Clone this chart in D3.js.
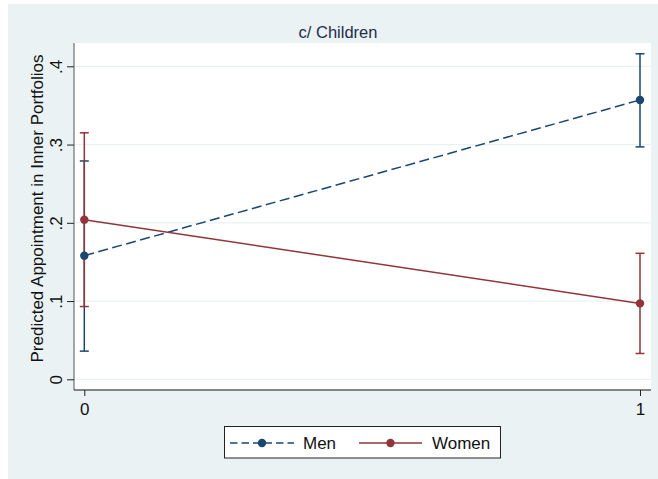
<!DOCTYPE html>
<html>
<head>
<meta charset="utf-8">
<script src="https://cdn.jsdelivr.net/npm/d3@7"></script>
<style>
  html, body { margin: 0; padding: 0; background: #ffffff; }
  svg { display: block; font-family: "Liberation Sans", Arial, sans-serif; }
</style>
</head>
<body>
<div id="chart"></div>
<script>
// Predicted appointment by parenthood group (with children)
const xCategories = [0, 1];
const xTickLabels = ["0", "1"];
const yTicks = [0, 0.1, 0.2, 0.3, 0.4];
const yTickLabels = ["0", ".1", ".2", ".3", ".4"];

const menValues = [0.158, 0.357];
const menLower = [0.036, 0.297];
const menUpper = [0.279, 0.416];

const womenValues = [0.204, 0.097];
const womenLower = [0.093, 0.033];
const womenUpper = [0.315, 0.161];

const seriesNames = ["Men", "Women"];
const seriesColors = ["#1a476f", "#90353b"];

const W = 658, H = 479;
const bg = "#eaf2f3";
const fontSize = 17;

const svg = d3.select("#chart").append("svg")
  .attr("width", W).attr("height", H);

// outer graph region
svg.append("rect").attr("x", 8).attr("y", 4).attr("width", W - 8).attr("height", H - 4)
  .attr("fill", bg);

const plot = { left: 74, right: 651, top: 43, bottom: 390 };

// plot region
svg.append("rect")
  .attr("x", plot.left).attr("y", plot.top)
  .attr("width", plot.right - plot.left).attr("height", plot.bottom - plot.top)
  .attr("fill", "#ffffff");

// subtitle
svg.append("text")
  .attr("x", 338).attr("y", 38)
  .attr("text-anchor", "middle")
  .attr("font-size", 16.5).attr("fill", "#1e2d4d")
  .text("c/ Children");

const x = d3.scaleLinear().domain([0, 1]).range([84.3, 640]);
const y = d3.scaleLinear().domain([0, 0.4]).range([379.3, 66.3]);

// gridlines
svg.append("g").selectAll("line").data(yTicks).join("line")
  .attr("x1", plot.left + 1).attr("x2", plot.right)
  .attr("y1", d => y(d)).attr("y2", d => y(d))
  .attr("stroke", bg).attr("stroke-width", 1.2);

// y axis
const yAxis = d3.axisLeft(y).tickValues(yTicks)
  .tickFormat((d, i) => yTickLabels[i]).tickSize(7).tickPadding(4);
const gy = svg.append("g").attr("transform", `translate(${plot.left},0)`).call(yAxis);
gy.select(".domain").attr("d", `M0,${plot.top}V${plot.bottom}`).attr("stroke", "#555");
gy.selectAll(".tick line").attr("stroke", "#222");
// rotated tick labels, placed in the axis' own frame
gy.selectAll(".tick").each(function(d) {
  const t = d3.select(this);
  t.select("text")
    .attr("font-size", fontSize).attr("fill", "#111")
    .attr("font-family", "Liberation Sans, Arial, sans-serif")
    .attr("text-anchor", "middle")
    .attr("dy", null)
    .attr("x", 0).attr("y", -12)
    .attr("transform", "rotate(-90)");
});

// x axis
const xAxis = d3.axisBottom(x).tickValues(xCategories)
  .tickFormat((d, i) => xTickLabels[i]).tickSize(6).tickPadding(7);
const gx = svg.append("g").attr("transform", `translate(0,${plot.bottom})`).call(xAxis);
gx.select(".domain").attr("d", `M${plot.left},0H${plot.right}`).attr("stroke", "#111");
gx.selectAll(".tick line").attr("stroke", "#222");
gx.selectAll(".tick text").attr("font-size", fontSize).attr("fill", "#111")
  .attr("font-family", "Liberation Sans, Arial, sans-serif");

// y axis title
svg.append("text")
  .attr("transform", `translate(43,${(plot.top + plot.bottom) / 2 - 8}) rotate(-90)`)
  .attr("text-anchor", "middle")
  .attr("font-size", fontSize).attr("fill", "#111")
  .text("Predicted Appointment in Inner Portfolios");

const series = [
  { name: seriesNames[0], color: seriesColors[0], vals: menValues, lo: menLower, hi: menUpper, dash: "10,4.5", keyDash: "7.5,4" },
  { name: seriesNames[1], color: seriesColors[1], vals: womenValues, lo: womenLower, hi: womenUpper, dash: null, keyDash: null }
];

const capW = 4.5;
series.forEach(s => {
  const g = svg.append("g");
  // confidence intervals
  xCategories.forEach((c, i) => {
    g.append("line").attr("x1", x(c)).attr("x2", x(c))
      .attr("y1", y(s.lo[i])).attr("y2", y(s.hi[i]))
      .attr("stroke", s.color).attr("stroke-width", 1.5);
    [s.lo[i], s.hi[i]].forEach(v => {
      g.append("line").attr("x1", x(c) - capW).attr("x2", x(c) + capW)
        .attr("y1", y(v)).attr("y2", y(v))
        .attr("stroke", s.color).attr("stroke-width", 1.5);
    });
  });
});

series.forEach(s => {
  const line = d3.line().x((d, i) => x(xCategories[i])).y(d => y(d));
  svg.append("path").datum(s.vals).attr("d", line)
    .attr("fill", "none").attr("stroke", s.color).attr("stroke-width", 1.5)
    .attr("stroke-dasharray", s.dash);
  svg.append("g").selectAll("circle").data(s.vals).join("circle")
    .attr("cx", (d, i) => x(xCategories[i])).attr("cy", d => y(d)).attr("r", 4.2)
    .attr("fill", s.color);
});

// legend
const lg = svg.append("g");
lg.append("rect").attr("x", 224.5).attr("y", 426.5).attr("width", 276).attr("height", 31.5)
  .attr("fill", "#ffffff").attr("stroke", "#222").attr("stroke-width", 1);
const legendItems = [
  { x0: 230, x1: 294, tx: 303 },
  { x0: 359, x1: 422, tx: 432 }
];
series.forEach((s, i) => {
  const it = legendItems[i];
  const ly = 443;
  lg.append("line").attr("x1", it.x0).attr("x2", it.x1).attr("y1", ly).attr("y2", ly)
    .attr("stroke", s.color).attr("stroke-width", 1.5).attr("stroke-dasharray", s.keyDash);
  lg.append("circle").attr("cx", (it.x0 + it.x1) / 2).attr("cy", ly).attr("r", 4.2).attr("fill", s.color);
  lg.append("text").attr("x", it.tx).attr("y", ly + 6)
    .attr("font-size", fontSize).attr("fill", "#111").text(s.name);
});
</script>
</body>
</html>
